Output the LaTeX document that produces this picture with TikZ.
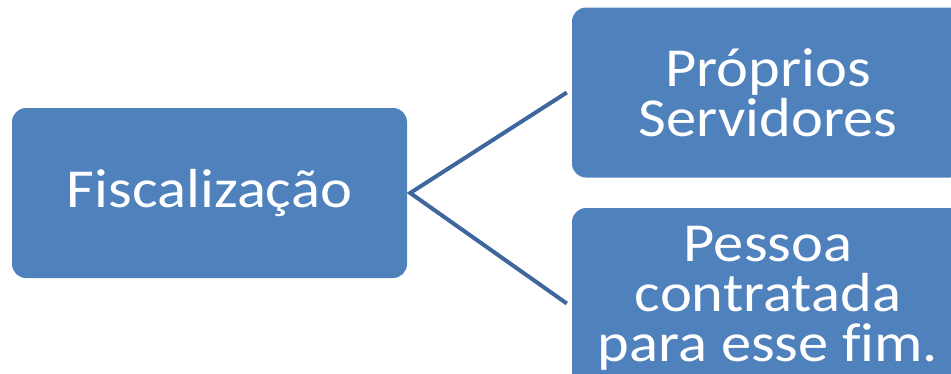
\documentclass[tikz,border=0pt]{standalone}
\usepackage{fontspec}
\setmainfont{Carlito}[FakeStretch=1.1, Ligatures=CommonOff]
\definecolor{boxblue}{RGB}{79,129,189}
\definecolor{linkblue}{RGB}{63,103,158}
\begin{document}
\begin{tikzpicture}[x=1pt,y=-1pt,
  box/.style={fill=boxblue, rounded corners=14pt, text=white, align=center,
    inner sep=0pt, minimum width=392pt, minimum height=170pt,
    font=\fontsize{55}{50}\selectfont},
  link/.style={draw=linkblue, line width=4pt, line join=miter}]
\useasboundingbox (0,0) rectangle (951,373);
\clip (0,0) rectangle (951,373);

% root and its two branches
\node[box, minimum width=395pt] (fisc) at (209.5,193) {\raisebox{-3pt}{Fiscalização}};
\node[box] (serv) at (768,92.5) {Próprios\\Servidores};
\node[box, minimum height=180pt] (pess) at (768,298) {Pessoa\\contratada\\para esse fim.};

% fork from the root to both branches
\coordinate (fork) at ([xshift=3pt]fisc.east);
\coordinate (servin) at ([xshift=-5pt]serv.west);
\coordinate (pessin) at ([xshift=-5pt,yshift=-5.5pt]pess.west);
\draw[link] (servin) -- (fork) -- (pessin);
\end{tikzpicture}
\end{document}
